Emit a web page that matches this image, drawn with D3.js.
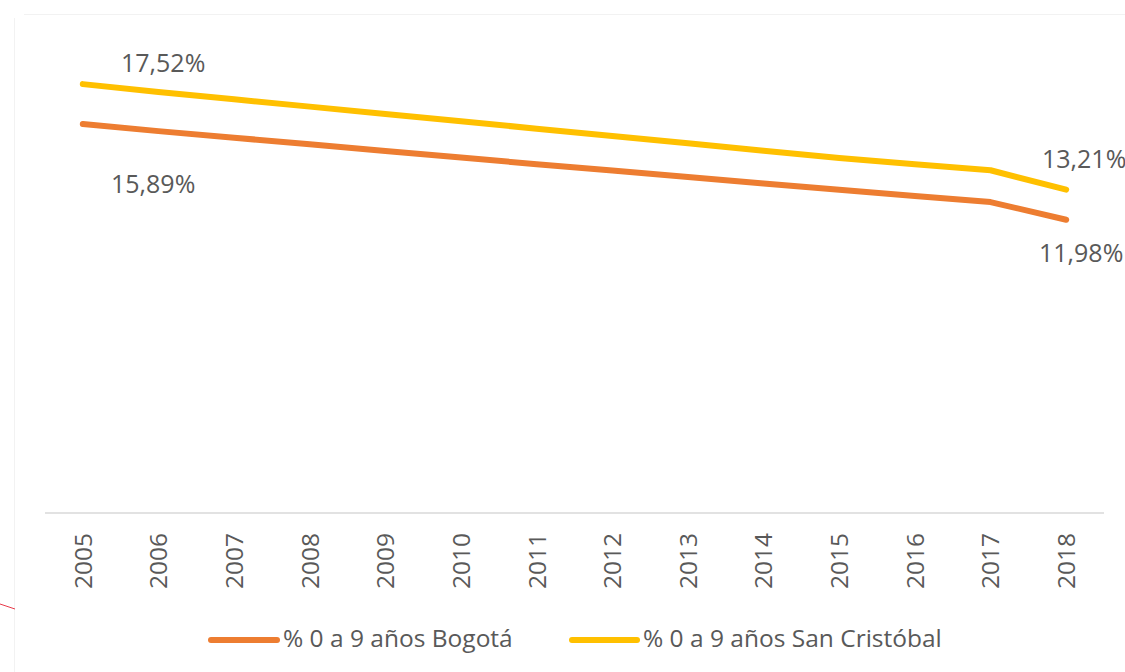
<!DOCTYPE html>
<html>
<head>
<meta charset="utf-8">
<script src="https://cdn.jsdelivr.net/npm/d3@7"></script>
<style>
  body { margin: 0; background: #fff; }
  svg { display: block; font-family: 'Open Sans', sans-serif; }
</style>
</head>
<body>
<div id="chart"></div>
<script>
const years = [2005, 2006, 2007, 2008, 2009, 2010, 2011, 2012, 2013, 2014, 2015, 2016, 2017, 2018];
const bogota = [15.89, 15.60, 15.33, 15.06, 14.79, 14.52, 14.25, 13.99, 13.73, 13.46, 13.20, 12.95, 12.70, 11.98];
const sanCristobal = [17.52, 17.20, 16.90, 16.60, 16.30, 16.00, 15.70, 15.40, 15.10, 14.80, 14.50, 14.25, 14.00, 13.21];
const seriesNames = ['% 0 a 9 años Bogotá', '% 0 a 9 años San Cristóbal'];
const seriesColors = ['#ED7D31', '#FFC000'];

const width = 1125, height = 672;
const textColor = '#595959';

const svg = d3.select('#chart')
    .append('svg')
    .attr('width', width)
    .attr('height', height);

// faint chart-area border and the stray red stroke at the left
svg.append('line')
    .attr('x1', 24).attr('x2', width).attr('y1', 14.5).attr('y2', 14.5)
    .attr('stroke', '#f2f2f2').attr('stroke-width', 1);
svg.append('line')
    .attr('x1', 14.5).attr('x2', 14.5).attr('y1', 18).attr('y2', height)
    .attr('stroke', '#f2f2f2').attr('stroke-width', 1);
svg.append('line')
    .attr('x1', 0).attr('x2', 15).attr('y1', 604).attr('y2', 609)
    .attr('stroke', '#e8394a').attr('stroke-width', 1);

const x = d3.scaleBand()
    .domain(years)
    .range([45, 1104]);
const xc = d => x(d) + x.bandwidth() / 2;

const y = d3.scaleLinear()
    .domain([0, 20])
    .range([513, 23.4]);

// x axis line
svg.append('line')
    .attr('x1', x.range()[0]).attr('x2', x.range()[1])
    .attr('y1', y(0)).attr('y2', y(0))
    .attr('stroke', '#d9d9d9').attr('stroke-width', 1.6);

// rotated year labels
svg.append('g')
    .selectAll('text')
    .data(years)
    .enter()
    .append('text')
    .attr('transform', d => 'translate(' + xc(d) + ',533) rotate(-90)')
    .attr('text-anchor', 'end')
    .attr('dy', '0.36em')
    .attr('fill', textColor)
    .style('font-size', '24.5px')
    .text(d => d);

const line = d3.line()
    .x((d, i) => xc(years[i]))
    .y(d => y(d));

const series = [bogota, sanCristobal];
svg.append('g')
    .selectAll('path')
    .data(series)
    .enter()
    .append('path')
    .attr('d', d => line(d))
    .attr('fill', 'none')
    .attr('stroke', (d, i) => seriesColors[i])
    .attr('stroke-width', 6)
    .attr('stroke-linecap', 'round')
    .attr('stroke-linejoin', 'round');

// data labels on first and last point
const fmt = v => v.toFixed(2).replace('.', ',') + '%';
const labels = [
    { v: sanCristobal[0], x: 121, y: 72 },
    { v: bogota[0], x: 111, y: 193 },
    { v: sanCristobal[13], x: 1042, y: 168 },
    { v: bogota[13], x: 1039, y: 262 },
];
svg.append('g')
    .selectAll('text')
    .data(labels)
    .enter()
    .append('text')
    .attr('x', d => d.x)
    .attr('y', d => d.y)
    .attr('fill', textColor)
    .style('font-size', '25px')
    .text(d => fmt(d.v));

// legend
const legendItems = [
    { x1: 211, x2: 277, tx: 283 },
    { x1: 572, x2: 637, tx: 643 },
];
const legend = svg.append('g');
legendItems.forEach((d, i) => {
    legend.append('line')
        .attr('x1', d.x1).attr('x2', d.x2)
        .attr('y1', 640).attr('y2', 640)
        .attr('stroke', seriesColors[i])
        .attr('stroke-width', 6)
        .attr('stroke-linecap', 'round');
    legend.append('text')
        .attr('x', d.tx)
        .attr('y', 647)
        .attr('fill', textColor)
        .style('font-size', '24.5px')
        .text(seriesNames[i]);
});
</script>
</body>
</html>
